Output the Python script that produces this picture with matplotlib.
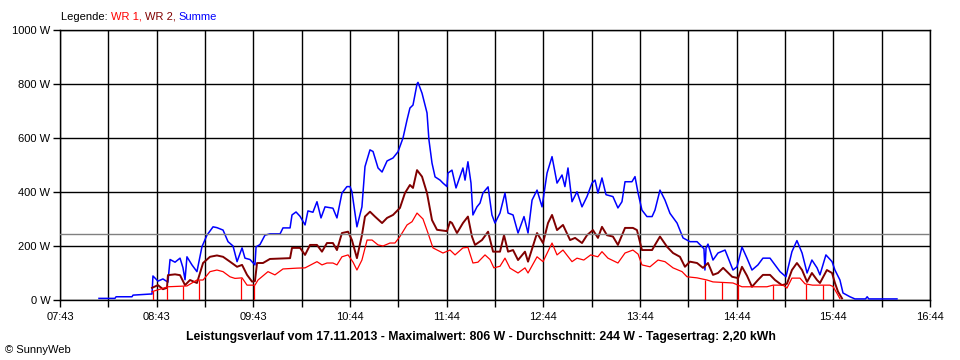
import numpy as np
import matplotlib
matplotlib.use("Agg")
import matplotlib.pyplot as plt

plt.rcParams["font.family"] = ["Liberation Sans", "DejaVu Sans"]

# zeit in minuten nach 07:43, leistung in W
t_summe = [24.2, 34.1, 34.8, 44.7, 45.3, 55.9, 57.1, 57.7, 60.8, 63.9, 67.0, 68.3, 71.4, 74.5, 76.3,
           77.6, 78.8, 81.9, 85.0, 88.1, 91.2, 95.0, 97.4, 101.2, 104.3, 107.4, 109.9, 113.0, 114.8,
           117.9, 121.0, 121.7, 124.1, 127.2, 130.3, 136.6, 138.4, 142.8, 144.0, 146.5, 149.0, 152.1,
           153.9, 157.0, 159.5, 162.0, 164.5, 169.4, 171.9, 175.0, 178.1, 180.0, 181.2, 184.3, 187.4,
           189.3, 192.4, 194.3, 197.4, 199.9, 203.0, 206.7, 209.8, 212.9, 215.4, 217.2, 219.1, 221.6,
           222.2, 224.7, 227.8, 229.0, 230.9, 232.8, 235.9, 237.7, 240.2, 240.8, 243.3, 245.8, 250.1,
           251.4, 253.2, 255.1, 256.3, 258.8, 260.7, 262.5, 265.7, 268.1, 270.0, 273.1, 276.2, 278.1,
           281.2, 284.3, 288.0, 290.5, 293.0, 296.1, 299.2, 302.3, 305.4, 308.5, 311.6, 313.4, 315.3,
           317.8, 320.9, 324.0, 327.1, 330.2, 332.1, 333.9, 336.4, 338.9, 343.2, 346.3, 348.8, 350.7,
           355.0, 356.9, 358.8, 361.2, 364.3, 367.5, 369.3, 372.4, 375.5, 378.6, 383.0, 386.7, 391.0,
           395.4, 398.5, 399.7, 400.3, 401.0, 402.2, 405.3, 408.4, 412.8, 417.7, 420.2, 423.3, 426.4,
           429.5, 433.2, 436.3, 440.7, 443.8, 446.9, 450.6, 454.3, 457.4, 460.6, 463.7, 466.7, 469.9,
           471.7, 475.4, 479.2, 481.0, 484.1, 486.0, 490.3, 493.4, 500.0, 501.0, 502.0, 510.0, 519.5]
summe = [6, 6, 12, 12, 18, 22, 22, 89, 70, 78, 66, 150, 140, 155, 120,
         75, 160, 130, 105, 197, 240, 271, 268, 259, 216, 200, 142, 193, 155,
         150, 130, 197, 205, 240, 245, 245, 267, 267, 315, 326, 310, 278,
         330, 325, 364, 304, 345, 340, 304, 396, 420, 420, 401, 271, 345,
         494, 556, 550, 489, 474, 515, 526, 549, 600, 667, 711, 722, 800,
         806, 766, 693, 593, 507, 456, 444, 433, 420, 470, 481, 415, 489,
         444, 512, 433, 315, 345, 359, 396, 419, 315, 285, 322, 396, 322,
         315, 248, 309, 248, 370, 407, 345, 470, 531, 433, 463, 420, 489,
         364, 401, 345, 383, 433, 444, 396, 452, 390, 383, 341, 364, 438,
         438, 457, 396, 333, 309, 309, 333, 407, 370, 321, 285, 230, 216,
         216, 197, 190, 111, 193, 207, 148, 174, 185, 111, 123, 196, 155,
         111, 130, 155, 155, 130, 105, 86, 179, 220, 174, 100, 148, 119,
         93, 167, 142, 111, 74, 26, 12, 4, 4, 12, 4, 4, 4]

t_wr2 = [57.1, 60.8, 63.9, 66.4, 67.0, 71.4, 74.5, 77.6, 80.7, 85.0, 88.8, 93.1, 97.4, 101.2, 105.5,
         109.9, 113.0, 116.1, 119.2, 121.0, 122.3, 126.0, 130.3, 142.8, 144.0, 149.0, 152.1, 155.2,
         159.5, 162.6, 165.7, 169.4, 171.9, 175.0, 178.8, 181.2, 184.3, 187.4, 189.3, 192.4, 195.5,
         199.9, 203.0, 206.7, 211.0, 214.1, 217.2, 219.1, 221.6, 224.7, 227.8, 230.9, 234.0, 240.2,
         242.1, 243.3, 246.4, 250.1, 253.2, 255.7, 257.6, 261.9, 265.7, 268.8, 273.1, 275.6, 278.1,
         281.2, 284.3, 288.6, 290.5, 296.1, 299.8, 302.9, 305.4, 308.5, 312.2, 316.6, 319.7, 324.0,
         327.1, 330.8, 333.9, 336.4, 339.5, 343.2, 346.3, 350.7, 355.6, 358.1, 361.2, 367.5, 369.3,
         372.4, 376.8, 380.5, 384.8, 387.9, 391.0, 395.4, 399.1, 402.2, 405.3, 408.4, 411.6, 417.2,
         420.9, 423.3, 426.4, 429.5, 433.2, 436.3, 440.7, 443.8, 448.1, 451.2, 454.3, 457.4, 460.6,
         463.7, 466.7, 469.9, 471.7, 476.0, 479.2, 481.0, 482.9, 485.4]
wr2 = [45, 55, 40, 45, 92, 95, 92, 55, 74, 63, 137, 160, 165, 160, 142,
       123, 130, 93, 68, 70, 137, 137, 152, 155, 193, 193, 167, 204,
       204, 179, 211, 211, 185, 248, 253, 222, 155, 240, 309, 327, 309,
       285, 304, 315, 341, 396, 426, 415, 481, 457, 396, 296, 260, 255,
       290, 285, 248, 285, 309, 235, 204, 222, 253, 179, 179, 240, 179,
       185, 148, 179, 142, 248, 211, 285, 315, 259, 278, 222, 230, 211,
       240, 259, 230, 271, 240, 235, 204, 267, 267, 259, 185, 185, 204,
       235, 197, 174, 160, 123, 142, 137, 119, 137, 93, 100, 119, 86,
       81, 123, 90, 49, 74, 93, 93, 74, 55, 60, 111, 137, 111,
       67, 100, 74, 63, 111, 100, 63, 31, 6]

t_wr1 = [57.1, 62.1, 67.0, 78.8, 85.0, 88.8, 93.1, 97.4, 101.2, 105.5, 108.6, 113.0, 116.1, 121.0,
         122.9, 129.1, 133.4, 138.4, 147.1, 152.1, 159.5, 162.6, 165.7, 169.4, 171.9, 175.0, 178.8,
         181.9, 184.3, 187.4, 190.6, 193.7, 197.4, 200.5, 204.8, 207.9, 211.0, 215.4, 218.5, 221.6,
         225.3, 228.4, 231.5, 237.7, 242.1, 245.2, 250.1, 253.2, 256.3, 259.4, 263.8, 266.9, 269.3,
         273.1, 276.2, 279.3, 284.3, 288.6, 290.5, 296.1, 299.8, 305.4, 308.5, 312.2, 317.8, 320.9,
         325.1, 329.4, 333.8, 336.4, 340.1, 346.3, 350.7, 355.6, 358.8, 361.2, 366.2, 371.2, 375.5,
         380.5, 386.1, 389.2, 395.4, 401.6, 405.3, 417.7, 423.3, 438.8, 442.6, 448.8, 451.2, 454.3,
         459.3, 462.4, 467.1, 477.9, 479.8, 482.9, 484.1]
wr1 = [31, 40, 49, 52, 74, 74, 105, 111, 105, 86, 80, 82, 55, 55,
       74, 105, 93, 115, 118, 119, 142, 130, 137, 137, 130, 160, 167,
       140, 111, 148, 222, 222, 204, 200, 211, 211, 235, 278, 290, 322,
       300, 248, 193, 174, 185, 167, 193, 195, 137, 140, 167, 150, 119,
       125, 155, 118, 100, 119, 100, 160, 142, 211, 167, 185, 142, 155,
       148, 167, 160, 179, 155, 137, 174, 185, 170, 130, 123, 148, 142,
       119, 105, 86, 82, 74, 67, 63, 49, 49, 55, 55, 44, 81,
       81, 60, 55, 55, 50, 18, 5]

# einbrueche auf 0 W
wr1_spikes = [57.7, 66.4, 76.3, 86.3, 112.3, 120.4, 400.3, 410.9, 420.9, 442.6, 463.1, 473.7]
wr2_spikes = [420.9]

durchschnitt = 244
tick_labels = ["07:43", "08:43", "09:43", "10:44", "11:44", "12:44", "13:44", "14:44", "15:44", "16:44"]
y_labels = ["0 W", "200 W", "400 W", "600 W", "800 W", "1000 W"]

fig = plt.figure(figsize=(9.6, 3.6), dpi=100)
ax = fig.add_axes([0.0625, 0.16667, 0.90625, 0.75])

ax.set_xlim(0, 540)
ax.set_ylim(0, 1000)
ax.set_xticks(np.arange(0, 541, 60))
ax.set_xticks(np.arange(30, 541, 60), minor=True)
ax.set_xticklabels(tick_labels)
ax.set_yticks(np.arange(0, 1001, 200))
ax.set_yticklabels(y_labels)
ax.tick_params(axis="both", which="both", length=5, width=1, color="black",
               labelsize=8, direction="out", pad=2)
ax.tick_params(axis="x", pad=4)
ax.grid(True, which="both", color="black", linewidth=1)
ax.set_axisbelow(True)
for s in ax.spines.values():
    s.set_linewidth(1)

ax.plot(t_summe, summe, color="#0000ff", lw=1.1, zorder=3)
ax.plot(t_wr2, wr2, color="#800000", lw=1.4, zorder=4)
ax.plot(t_wr1, wr1, color="#ff0000", lw=0.9, zorder=5)
ax.vlines(wr1_spikes, 0, np.interp(wr1_spikes, t_wr1, wr1), color="#ff0000", lw=0.9, zorder=5)
ax.vlines(wr2_spikes, 0, np.interp(wr2_spikes, t_wr2, wr2), color="#800000", lw=1.4, zorder=4)
ax.axhline(durchschnitt, color="#808080", lw=1.0, zorder=6)

# legende oben links
fig.text(0.0635, 0.953, "Legende: ", fontsize=8, color="black", va="center")
parts = [("WR 1, ", "#ff0000"), ("WR 2, ", "#800000"), ("Summe", "#0000ff")]
fig.canvas.draw()
x0 = 0.0635
r = fig.canvas.get_renderer()
t = fig.texts[0]
x0 += t.get_window_extent(r).width / fig.bbox.width
for txt, col in parts:
    tt = fig.text(x0, 0.953, txt, fontsize=8, color=col, va="center")
    x0 += tt.get_window_extent(r).width / fig.bbox.width

fig.text(0.5005, 0.063,
         "Leistungsverlauf vom 17.11.2013 - Maximalwert: 806 W - Durchschnitt: 244 W - Tagesertrag: 2,20 kWh",
         fontsize=8.8, fontweight="bold", ha="center", va="center")
fig.text(0.005, 0.028, "© SunnyWeb", fontsize=8, va="center")

fig.savefig("out.png", dpi=100)
